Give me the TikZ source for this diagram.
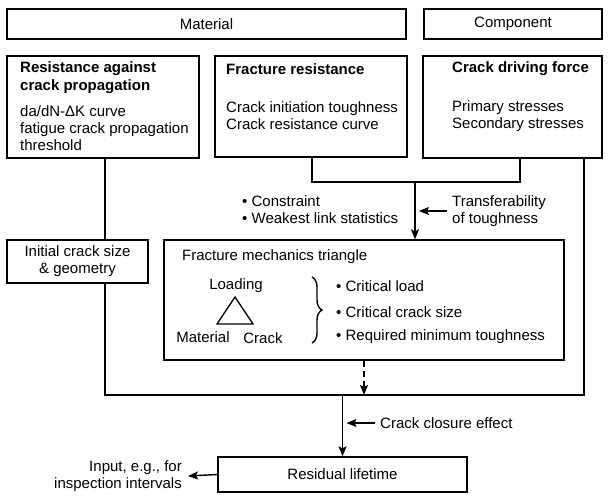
\documentclass[tikz,border=0pt]{standalone}
\usepackage{fontspec}
\setmainfont{Liberation Sans}
\usepackage{tikz}
\usetikzlibrary{arrows.meta,decorations.pathreplacing}

\tikzset{
  box/.style={draw, line width=1.4pt, inner sep=0pt},
  txt/.style={inner sep=0pt, align=left, font=\fontsize{15}{17}\selectfont},
  ttl/.style={txt, font=\fontsize{15}{18}\selectfont\bfseries},
  arr/.style={line width=1.4pt, -{Stealth[length=10pt,width=8pt,inset=2pt]}},
  wire/.style={line width=1.4pt}
}

\begin{document}
\begin{tikzpicture}[x=1pt, y=-1pt]
    \useasboundingbox (0,0) rectangle (610,496);

    % Top row
    \node[box, minimum width=399pt, minimum height=30pt] (mat) at (206.5,24) {};
    \node[txt] (matT) at (mat) {Material};
    \node[box, minimum width=178pt, minimum height=30pt] (comp) at (513,24) {};
    \node[txt] (compT) at (comp) {Component};

    % Second row
    \node[box, minimum width=192pt, minimum height=102pt] (res) at (103,107) {};
    \node[ttl, anchor=west] (resT) at (20,78) {Resistance against\\crack propagation};
    \node[txt, anchor=west] (resL) at (20,128) {da/dN-ΔK curve\\fatigue crack propagation\\threshold};

    \node[box, minimum width=192pt, minimum height=101pt] (frac) at (311,106.5) {};
    \node[ttl, anchor=west] (fracT) at (226,69) {Fracture resistance};
    \node[txt, anchor=west] (fracL) at (226,116) {Crack initiation toughness\\Crack resistance curve};

    \node[box, minimum width=179pt, minimum height=102pt] (drive) at (512.5,107) {};
    \node[ttl, anchor=west] (driveT) at (452,69) {Crack driving force};
    \node[txt, anchor=west] (driveL) at (452,116) {Primary stresses\\Secondary stresses};

    % Middle
    \node[box, minimum width=141pt, minimum height=43pt] (init) at (77.5,261.5) {};
    \node[txt, align=center] (initT) at (init) {Initial crack size\\\& geometry};

    \node[box, minimum width=400pt, minimum height=120pt] (fmt) at (364,300) {};
    \node[txt, anchor=west] (fmtT) at (182,257) {Fracture mechanics triangle};
    \node[txt] (load) at (236,286) {Loading};
    \node[txt] (matl) at (203,337) {Material};
    \node[txt] (crk) at (263,338) {Crack};
    \draw[line width=1.3pt] (235,297) -- (217,324) -- (253,324) -- cycle;
    \draw[line width=1.4pt, decorate, decoration={brace, amplitude=10pt}] (312,277) -- (312,343);
    \foreach \y/\t in {286/Critical load, 312/Critical crack size, 337/Required minimum toughness}
        \node[txt, anchor=west] (crit\y) at (336,\y) {\textbullet\ \t};

    \node[txt, anchor=west] (cons) at (242,210) {\textbullet\ Constraint\\\textbullet\ Weakest link statistics};
    \node[txt, anchor=west] (transfer) at (452,211) {Transferability\\of toughness};

    % Bottom
    \node[box, minimum width=249pt, minimum height=35pt] (life) at (342.5,474.5) {};
    \node[txt] (lifeT) at (life) {Residual lifetime};
    \node[txt, align=right, anchor=east] (input) at (182,476) {Input, e.g., for\\inspection intervals};
    \node[txt, anchor=west] (closure) at (380,423) {Crack closure effect};

    % Connectors
    \coordinate (joinL) at (312,182);
    \coordinate (joinR) at (520,182);
    \coordinate (joinM) at (415,182);
    \coordinate (loopL) at (105,395);
    \coordinate (loopR) at (584,395);

    \draw[wire] (res.south -| loopL) -- (loopL |- init.north);
    \draw[wire] (init.south -| loopL) -- (loopL) -- (loopR) -- (loopR |- drive.south);
    \draw[wire] (joinL |- frac.south) -- (joinL) -- (joinR) -- (joinR |- drive.south);
    \draw[arr] (joinM) -- (joinM |- fmt.north);
    \draw[arr] ([xshift=-5pt]transfer.west) -- ([xshift=4pt]joinM |- transfer.west);
    \draw[arr, dash pattern=on 6pt off 4pt] (fmt.south) -- (fmt.south |- loopL);
    \draw[arr] (life.north |- loopL) -- (life.north);
    \draw[arr] ([xshift=-5pt]closure.west) -- ([xshift=4pt]life.north |- closure.west);
    \draw[arr] (life.west) -- ([xshift=6pt]input.east);

\end{tikzpicture}
\end{document}
